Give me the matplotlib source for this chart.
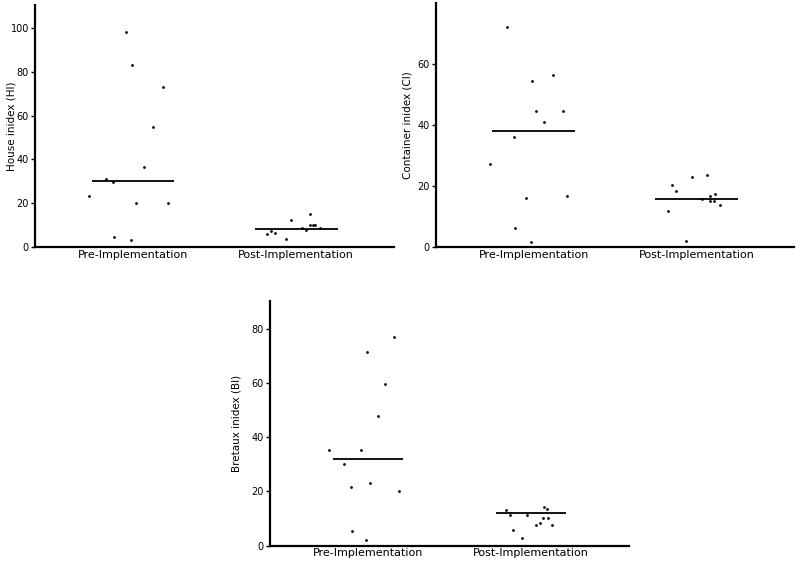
import numpy as np
import matplotlib.pyplot as plt

groups = ['Pre-Implementation', 'Post-Implementation']

# house index
hi_pre = [98.0, 83.3, 73.0, 54.8, 36.7, 30.9, 29.5, 23.1, 20.0, 20.2, 4.7, 3.2]
hi_pre_jit = [-0.045, -0.006, 0.184, 0.123, 0.068, -0.163, -0.12, -0.268, 0.015, 0.213, -0.114, -0.014]
hi_post = [15.1, 12.5, 9.9, 10.2, 10.0, 8.5, 8.5, 7.6, 7.4, 5.8, 6.4, 3.5]
hi_post_jit = [0.086, -0.031, 0.086, 0.106, 0.115, 0.033, 0.146, 0.061, -0.152, -0.178, -0.129, -0.063]
hi_lines = [30.0, 8.1]

# container index
ci_pre = [72.2, 54.5, 56.3, 44.6, 44.6, 41.0, 36.0, 27.2, 16.2, 16.7, 6.2, 1.6]
ci_pre_jit = [-0.162, -0.009, 0.118, 0.012, 0.18, 0.063, -0.121, -0.266, -0.047, 0.208, -0.115, -0.017]
ci_post = [23.7, 22.8, 20.2, 18.3, 17.3, 16.7, 15.9, 15.2, 15.2, 13.8, 11.8, 2.0]
ci_post_jit = [0.063, -0.029, -0.147, -0.125, 0.114, 0.086, 0.033, 0.083, 0.106, 0.145, -0.174, -0.061]
ci_lines = [38.0, 15.8]

# bretaux index
bi_pre = [76.9, 71.4, 59.7, 47.7, 35.4, 35.4, 30.2, 21.8, 23.1, 20.1, 5.3, 2.2]
bi_pre_jit = [0.162, -0.006, 0.107, 0.059, -0.236, -0.04, -0.145, -0.106, 0.012, 0.188, -0.1, -0.014]
bi_post = [13.2, 11.3, 11.1, 14.4, 13.5, 10.1, 10.2, 8.4, 7.6, 7.6, 5.8, 2.7]
bi_post_jit = [-0.156, -0.132, -0.026, 0.077, 0.095, 0.075, 0.103, 0.056, 0.032, 0.13, -0.109, -0.054]
bi_lines = [32.0, 12.1]

plt.rcParams['font.family'] = 'DejaVu Sans'

fig = plt.figure(figsize=(8, 5.61), dpi=100)

def panel(rect, pre, pre_j, post, post_j, lines, ylab, ymax, yticks, half, labx):
    ax = fig.add_axes(rect)
    ax.scatter(np.array(pre_j), pre, s=4, c='black', linewidths=0, zorder=3)
    ax.scatter(1 + np.array(post_j), post, s=4, c='black', linewidths=0, zorder=3)
    for i, v in enumerate(lines):
        ax.hlines(v, i - half, i + half, colors='black', linewidth=1.3)
    ax.set_xlim(-0.6, 1.6)
    ax.set_ylim(0, ymax)
    ax.set_yticks(yticks)
    ax.set_xticks([0, 1])
    ax.set_xticklabels(groups, fontsize=8)
    ax.tick_params(axis='x', length=0, pad=2)
    ax.tick_params(axis='y', length=3, width=1, labelsize=7, pad=1.5)
    ax.spines['top'].set_visible(False)
    ax.spines['right'].set_visible(False)
    ax.spines['left'].set_linewidth(1.6)
    ax.spines['bottom'].set_linewidth(1.6)
    ax.set_ylabel(ylab, fontsize=7.5)
    ax.yaxis.set_label_coords(labx, 0.5)
    return ax

panel([0.044, 0.5597, 0.4485, 0.4313], hi_pre, hi_pre_jit, hi_post, hi_post_jit, hi_lines,
      'House inidex (HI)', 110.5, [0, 20, 40, 60, 80, 100], 0.254, -0.052)
panel([0.545, 0.5597, 0.4475, 0.435], ci_pre, ci_pre_jit, ci_post, ci_post_jit, ci_lines,
      'Container inidex (CI)', 80, [0, 20, 40, 60], 0.256, -0.067)
panel([0.3375, 0.0276, 0.4488, 0.4366], bi_pre, bi_pre_jit, bi_post, bi_post_jit, bi_lines,
      'Bretaux inidex (BI)', 90.5, [0, 20, 40, 60, 80], 0.216, -0.078)

fig.savefig('out.png', dpi=100)
